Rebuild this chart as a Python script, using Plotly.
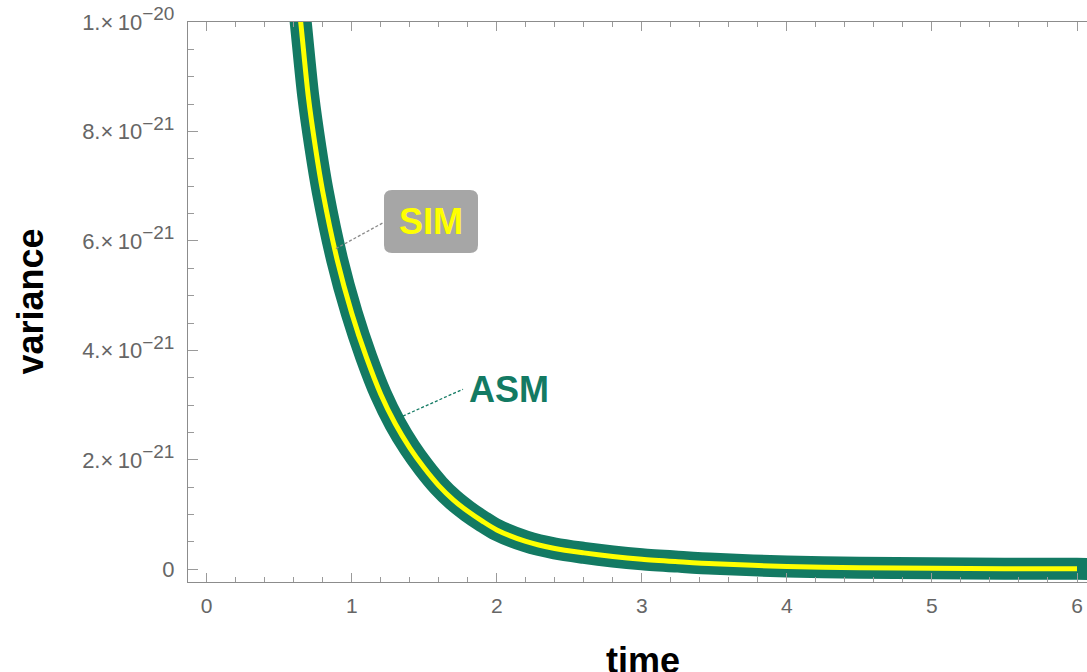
import plotly.graph_objects as go

# ---------------- data ----------------
time = [0.60, 0.65, 0.70, 0.75, 0.80, 0.90, 1.00, 1.10, 1.20, 1.30, 1.40, 1.50,
        1.60, 1.70, 1.80, 1.90, 2.00, 2.20, 2.40, 2.60, 2.80, 3.00, 3.25, 3.50,
        4.00, 4.50, 5.00, 5.50, 6.00]
# variance in units of 1e-21
sim_variance = [11.2, 9.95, 8.65, 7.70, 6.90, 5.65, 4.68, 3.88, 3.20, 2.66, 2.22, 1.85,
                1.53, 1.27, 1.06, 0.88, 0.72, 0.51, 0.38, 0.30, 0.235, 0.185, 0.14, 0.10,
                0.052, 0.030, 0.018, 0.012, 0.008]
asm_time = time + [6.10]
asm_variance = sim_variance + [0.007]
SCALE = 1e-21

x_tick_vals = [0, 1, 2, 3, 4, 5, 6]
x_tick_text = ["0", "1", "2", "3", "4", "5", "6"]
y_tick_vals = [0, 2, 4, 6, 8, 10]
SUP = "<sup><span style=\"font-size:19px\">{}</span></sup>"
y_tick_text = ["0",
               "2.×\u200910" + SUP.format("−21"),
               "4.×\u200910" + SUP.format("−21"),
               "6.×\u200910" + SUP.format("−21"),
               "8.×\u200910" + SUP.format("−21"),
               "1.×\u200910" + SUP.format("−20")]

# ---------------- styles ----------------
GREEN = "#137A63"
YELLOW = "#FFFF00"
FRAME = "#8C8C8C"
TICKC = "#9A9A9A"
LABELC = "#666666"
FONT = "Liberation Sans, Arial, Helvetica, sans-serif"

W, H = 1087, 672
L, R, T, B = 188, 0, 22, 90

fig = go.Figure()
fig.add_trace(go.Scatter(
    x=asm_time, y=[v * SCALE for v in asm_variance], mode="lines", name="ASM",
    line=dict(color=GREEN, width=22, shape="spline", smoothing=0.8),
    hoverinfo="skip"))
fig.add_trace(go.Scatter(
    x=time, y=[v * SCALE for v in sim_variance], mode="lines", name="SIM",
    line=dict(color=YELLOW, width=5, shape="spline", smoothing=0.8),
    hoverinfo="skip"))

def px2paper(px, py):
    return (px - L) / (W - L - R), (H - B - py) / (H - T - B)

# rounded box for SIM label (pixel geometry of the callout)
bx0, by0, bx1, by1, rad = 384, 190, 478, 253, 8
x0, y0 = px2paper(bx0, by1)
x1, y1 = px2paper(bx1, by0)
rx = rad / (W - L - R)
ry = rad / (H - T - B)
path = (f"M {x0+rx},{y0} L {x1-rx},{y0} Q {x1},{y0} {x1},{y0+ry} "
        f"L {x1},{y1-ry} Q {x1},{y1} {x1-rx},{y1} L {x0+rx},{y1} "
        f"Q {x0},{y1} {x0},{y1-ry} L {x0},{y0+ry} Q {x0},{y0} {x0+rx},{y0} Z")

shapes = [
    dict(type="path", xref="paper", yref="paper", path=path,
         fillcolor="#A6A6A6", line=dict(width=0), layer="above"),
    dict(type="line", xref="x", yref="y", x0=0.891, y0=5.86 * SCALE, x1=1.222, y1=6.34 * SCALE,
         line=dict(color="#8A8A8A", width=1.3, dash="3px,2px")),
    dict(type="line", xref="x", yref="y", x0=1.353, y0=2.80 * SCALE, x1=1.767, y1=3.29 * SCALE,
         line=dict(color=GREEN, width=1.3, dash="3px,2px")),
]

sx, sy = px2paper((bx0 + bx1) / 2, (by0 + by1) / 2)
annotations = [
    dict(xref="paper", yref="paper", x=sx, y=sy, text="<b>SIM</b>", showarrow=False,
         font=dict(family=FONT, size=36, color=YELLOW), xanchor="center", yanchor="middle"),
    dict(xref="x", yref="y", x=2.081, y=3.28 * SCALE, text="<b>ASM</b>", showarrow=False,
         font=dict(family=FONT, size=36, color=GREEN), xanchor="center", yanchor="middle"),
    dict(xref="paper", yref="paper", x=(642.5 - L) / (W - L - R), y=0, yshift=-56,
         text="<b>time</b>", showarrow=False, xanchor="center", yanchor="top",
         font=dict(family=FONT, size=36, color="black")),
    dict(xref="paper", yref="paper", x=(29.5 - L) / (W - L - R), y=0.5, textangle=-90,
         text="<b>variance</b>", showarrow=False, xanchor="center", yanchor="middle",
         font=dict(family=FONT, size=36, color="black")),
]

px_per_t = 145.05
x_left = -(206.7 - L) / px_per_t
x_right = x_left + (W - L - R) / px_per_t

fig.update_layout(
    width=W, height=H, margin=dict(l=L, r=R, t=T, b=B, pad=0),
    paper_bgcolor="white", plot_bgcolor="white", showlegend=False,
    font=dict(family=FONT),
    shapes=shapes, annotations=annotations,
    xaxis=dict(range=[x_left, x_right], showgrid=False, zeroline=False,
               showline=True, linecolor=FRAME, linewidth=1.3, mirror="ticks",
               ticks="inside", ticklen=9, tickwidth=1.3, tickcolor=TICKC,
               tickmode="array", tickvals=x_tick_vals, ticktext=x_tick_text,
               tickfont=dict(family=FONT, size=21, color=LABELC), ticklabelstandoff=5,
               minor=dict(ticks="inside", ticklen=5, tickwidth=1.1, tickcolor=TICKC,
                          tickmode="linear", tick0=0, dtick=0.2, showgrid=False)),
    yaxis=dict(range=[-0.232 * SCALE, 10 * SCALE], showgrid=False, zeroline=False,
               showline=True, linecolor=FRAME, linewidth=1.3, mirror=False,
               ticks="inside", ticklen=10, tickwidth=1.3, tickcolor=TICKC,
               tickmode="array", tickvals=[v * SCALE for v in y_tick_vals], ticktext=y_tick_text,
               tickfont=dict(family=FONT, size=22, color=LABELC), ticklabelstandoff=8,
               minor=dict(ticks="inside", ticklen=6, tickwidth=1.1, tickcolor=TICKC,
                          tickmode="linear", tick0=0, dtick=0.5 * SCALE, showgrid=False)),
)

fig.write_html("out.html")
